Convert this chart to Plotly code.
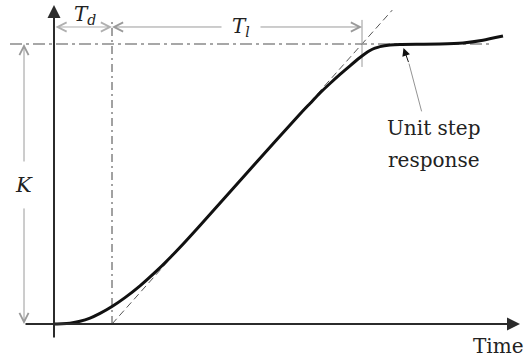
import plotly.graph_objects as go

# Process reaction curve (unit step response), time in arbitrary units
t_resp = [0.0, 0.32, 0.64, 1.04, 1.44, 1.84, 2.32, 2.84, 3.44, 4.04, 4.64, 5.24, 5.84,
          7.84, 9.84, 10.24, 10.64, 11.04, 11.44, 11.84, 12.24, 12.44, 12.64, 12.84,
          13.04, 13.44, 13.84, 14.64, 15.44, 16.36, 17.16, 17.96]
y_resp = [0.0, 0.0007, 0.0029, 0.0096, 0.0211, 0.0379, 0.0625, 0.0943, 0.1364, 0.1843,
          0.2368, 0.2932, 0.3521, 0.5521, 0.75, 0.7875, 0.825, 0.8589, 0.8911, 0.9221,
          0.9518, 0.9654, 0.9768, 0.985, 0.9907, 0.9964, 0.9986, 0.9993, 1.0, 1.0039,
          1.0136, 1.0286]

# Model parameters
K = 1.0      # steady-state gain
Td = 2.32    # dead time
T1 = 10.0    # time constant (tangent rise time)

x_range = [-2.16, 18.92]
y_range = [-0.1393, 1.1571]

SERIF = "DejaVu Serif"
AXIS_COL = "#2b2b2b"
DIM_COL = "#9a9a9a"

fig = go.Figure()

# Inflection tangent (extended past the K level)
ext = 1.121
fig.add_trace(go.Scatter(
    x=[Td, Td + ext * T1], y=[0, ext * K], mode="lines",
    line=dict(color="#555555", width=1, dash="7px,4px"), hoverinfo="skip"))

# Steady-state level K
fig.add_trace(go.Scatter(
    x=[-1.76, 17.44], y=[K, K], mode="lines",
    line=dict(color="#8a8a8a", width=1.5, dash="12px,4px,3px,4px"), hoverinfo="skip"))

# Dead time marker
fig.add_trace(go.Scatter(
    x=[Td, Td], y=[0, 1.086], mode="lines",
    line=dict(color="#444444", width=1, dash="8px,4px,2px,4px"), hoverinfo="skip"))

# End of T1 marker
fig.add_trace(go.Scatter(
    x=[Td + T1, Td + T1], y=[0.918, 1.086], mode="lines",
    line=dict(color=DIM_COL, width=1), hoverinfo="skip"))

# Step response curve
fig.add_trace(go.Scatter(
    x=t_resp, y=y_resp, mode="lines",
    line=dict(color="#111111", width=3, shape="spline", smoothing=0.5), hoverinfo="skip"))

ann = []

def arrow(x0, y0, x1, y1, color, width, head, size, side="end"):
    ann.append(dict(x=x1, y=y1, ax=x0, ay=y0, xref="x", yref="y", axref="x", ayref="y",
                    text="", showarrow=True, arrowhead=head, arrowsize=size,
                    arrowwidth=width, arrowcolor=color, arrowside=side,
                    startarrowhead=head, startarrowsize=size,
                    standoff=0, startstandoff=0))

# Axes with arrow tips
arrow(0, -0.054, 0, 1.139, AXIS_COL, 2, 2, 1.3)
arrow(-1.2, 0, 18.64, 0, AXIS_COL, 2, 2, 1.3)

# K dimension (split around the label)
arrow(-1.2, 0.575, -1.2, K, DIM_COL, 1, 5, 1.8)
arrow(-1.2, 0.418, -1.2, 0, DIM_COL, 1, 5, 1.8)

# Td dimension
arrow(0, 1.0607, Td, 1.0607, "#b0b0b0", 1, 5, 1.8, side="end+start")

# T1 dimension (split around the label)
arrow(6.76, 1.0607, Td, 1.0607, DIM_COL, 1, 5, 1.8)
arrow(8.2, 1.0607, Td + T1, 1.0607, DIM_COL, 1, 5, 1.8)

# Callout to the response curve
arrow(14.72, 0.754, 14.2, 0.93, "#777777", 0.8, 0, 1)
arrow(14.2, 0.93, 13.98, 0.986, "#111111", 1, 2, 1.6)

def label(x, y, text, size, xanchor="center"):
    ann.append(dict(x=x, y=y, xref="x", yref="y", text=text, showarrow=False,
                    font=dict(family=SERIF, size=size, color="#222222"),
                    xanchor=xanchor, yanchor="middle"))

label(1.24, 1.1036, "<i>T<sub>d</sub></i>", 20)
label(7.48, 1.0607, "<i>T<sub>l</sub></i>", 20)
label(-1.2, 0.496, "<i>K</i>", 21)
label(18.86, -0.0786, "Time", 20, xanchor="right")
label(15.16, 0.70, "Unit step", 20)
label(15.16, 0.5857, "response", 20)

fig.update_layout(
    width=527, height=363,
    margin=dict(l=0, r=0, t=0, b=0),
    paper_bgcolor="white", plot_bgcolor="white",
    showlegend=False,
    font=dict(family=SERIF),
    xaxis=dict(range=x_range, visible=False, fixedrange=True),
    yaxis=dict(range=y_range, visible=False, fixedrange=True),
    annotations=ann,
)

fig.write_html("out.html")
